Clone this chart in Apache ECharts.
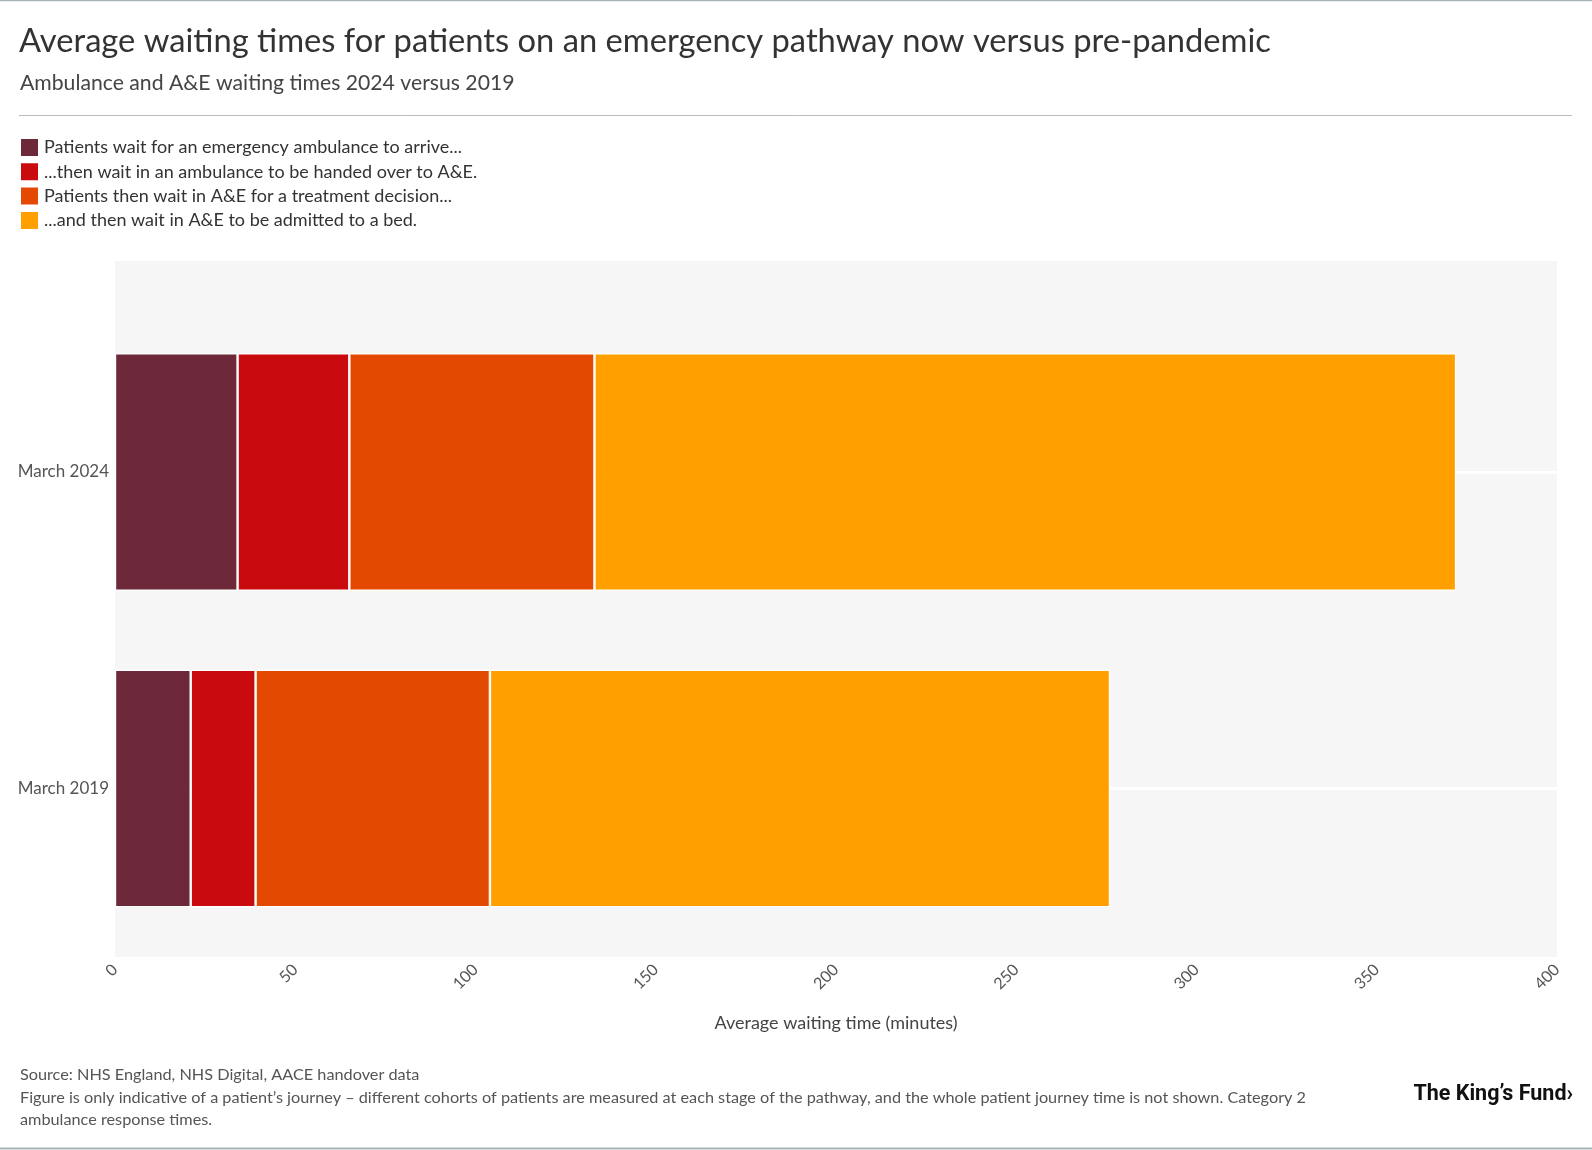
<!DOCTYPE html>
<html>
<head>
<meta charset="utf-8">
<script src="https://cdn.jsdelivr.net/npm/echarts@6/dist/echarts.min.js"></script>
<style>
  html, body { margin: 0; padding: 0; background: #ffffff; }
  #chart { width: 1592px; height: 1150px; }
</style>
</head>
<body>
<div id="chart"></div>
<script>
const categories = ['March 2019', 'March 2024'];
const seriesNames = [
  'Patients wait for an emergency ambulance to arrive...',
  '...then wait in an ambulance to be handed over to A&E.',
  'Patients then wait in A&E for a treatment decision...',
  '...and then wait in A&E to be admitted to a bed.'
];
const ambulanceArrival = [21, 34];
const ambulanceHandover = [18, 31];
const treatmentDecision = [65, 68];
const admissionToBed = [172, 239];
const xTicks = { min: 0, max: 400, interval: 50 };
const colors = ['#6d2839', '#c90b10', '#e34900', '#ffa000'];

const FONT = 'Lato';
const seriesValues = [ambulanceArrival, ambulanceHandover, treatmentDecision, admissionToBed];

const chart = echarts.init(document.getElementById('chart'), null, { renderer: 'canvas' });

const option = {
  backgroundColor: '#ffffff',
  animation: false,
  textStyle: { fontFamily: FONT },
  title: [
    {
      text: 'Average waiting times for patients on an emergency pathway now versus pre-pandemic',
      left: 14, top: 20,
      textStyle: { fontFamily: FONT, fontSize: 32.7, fontWeight: 'normal', color: '#333333' }
    },
    {
      text: 'Ambulance and A&E waiting times 2024 versus 2019',
      left: 15, top: 68,
      textStyle: { fontFamily: FONT, fontSize: 21.2, fontWeight: 'normal', color: '#444444' }
    },
    {
      text: 'Source: NHS England, NHS Digital, AACE handover data\nFigure is only indicative of a patient\u2019s journey \u2013 different cohorts of patients are measured at each stage of the pathway, and the whole patient journey time is not shown. Category 2\nambulance response times.',
      left: 15, top: 1059,
      textStyle: { fontFamily: FONT, fontSize: 16.25, fontWeight: 'normal', color: '#555555', lineHeight: 22.5 }
    }
  ],
  legend: {
    orient: 'vertical',
    left: 19, top: 137,
    padding: 0,
    itemWidth: 19, itemHeight: 19, itemGap: 3.3,
    icon: 'rect',
    selectedMode: false,
    data: seriesNames,
    textStyle: { fontFamily: FONT, fontSize: 18, color: '#333333', lineHeight: 19 }
  },
  grid: [
    { left: 115, top: 261, width: 1442, height: 696, show: true, backgroundColor: '#f6f6f6', borderWidth: 0, containLabel: false },
    { left: 115, top: 472, width: 1442, height: 316.5, show: false, containLabel: false }
  ],
  xAxis: [
    {
      gridIndex: 0, type: 'value', min: xTicks.min, max: xTicks.max, interval: xTicks.interval,
      axisLine: { show: false }, axisTick: { show: false }, splitLine: { show: false },
      axisLabel: { rotate: 45, margin: 10, fontSize: 16, color: '#555555', fontFamily: FONT },
      name: 'Average waiting time (minutes)', nameLocation: 'middle', nameGap: 57,
      nameTextStyle: { fontSize: 18, color: '#444444', fontFamily: FONT }
    },
    {
      gridIndex: 1, type: 'value', min: xTicks.min, max: xTicks.max, interval: xTicks.interval,
      show: false, splitLine: { show: false }
    }
  ],
  yAxis: [
    { gridIndex: 0, type: 'value', show: false, min: 0, max: 1, splitLine: { show: false } },
    {
      gridIndex: 1, type: 'category', data: categories, boundaryGap: false,
      axisLine: { show: false }, axisTick: { show: false },
      axisLabel: { margin: 6, fontSize: 17, color: '#555555', fontFamily: FONT },
      splitLine: { show: true, lineStyle: { color: '#ffffff', width: 3 } }
    }
  ],
  series: seriesNames.map((name, i) => ({
    name: name,
    type: 'bar',
    xAxisIndex: 1,
    yAxisIndex: 1,
    stack: 'total',
    barWidth: '75%',
    clip: false,
    itemStyle: { color: colors[i], borderColor: '#ffffff', borderWidth: 1.2 },
    emphasis: { disabled: true },
    data: seriesValues[i]
  })),
  graphic: [
    { type: 'line', shape: { x1: 0, y1: 0.5, x2: 1592, y2: 0.5 }, style: { stroke: '#a9b3b8', lineWidth: 1.5 } },
    { type: 'line', shape: { x1: 0, y1: 1148.5, x2: 1592, y2: 1148.5 }, style: { stroke: '#a9b3b8', lineWidth: 2 } },
    { type: 'line', shape: { x1: 19, y1: 115.5, x2: 1572, y2: 115.5 }, style: { stroke: '#bbbbbb', lineWidth: 1 } },
    {
      type: 'text', right: 19, top: 1084,
      style: { text: 'The King\u2019s Fund\u203A', font: 'bold 21.5px Roboto', fill: '#111111' }
    }
  ]
};

chart.setOption(option);
</script>
</body>
</html>
